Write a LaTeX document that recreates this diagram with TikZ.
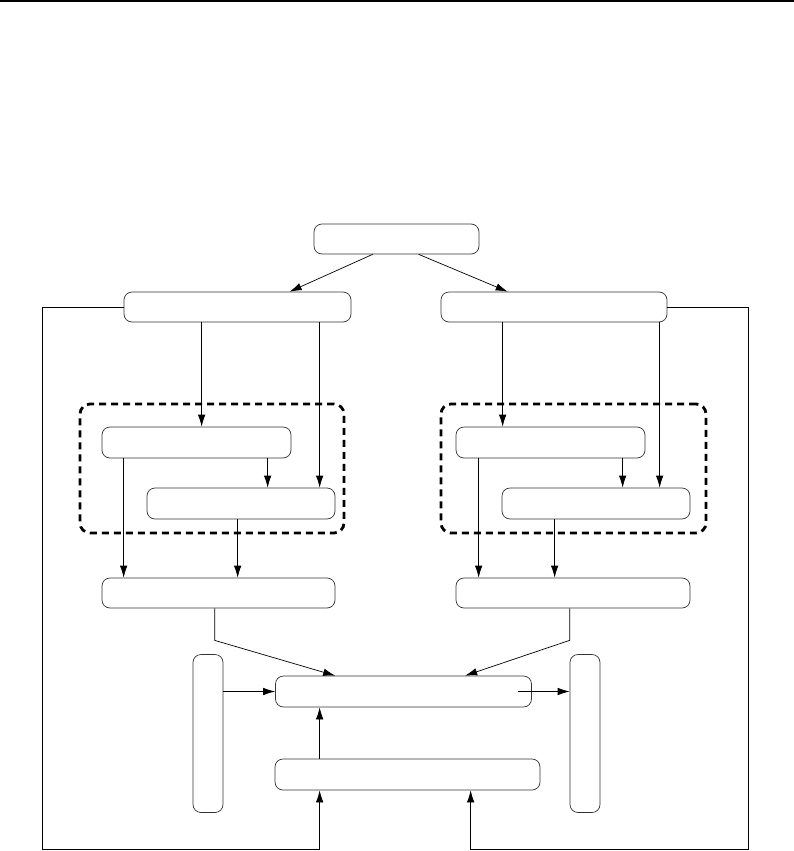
\documentclass[tikz,border=0pt]{standalone}
\usetikzlibrary{arrows.meta}
\begin{document}
\begin{tikzpicture}[x=1pt,y=-1pt,
  blk/.style={draw=black!80,line width=0.7pt,rounded corners=8pt,fill=white,inner sep=0pt},
  grp/.style={draw,line width=2.8pt,dash pattern=on 7pt off 5pt,rounded corners=10pt,inner sep=0pt},
  arr/.style={-{Latex[length=12pt,width=7.5pt]},line width=0.7pt},
  ln/.style={line width=0.7pt}]
\useasboundingbox (0,0) rectangle (794,851);
\fill (0,0) rectangle (794,2.5);
% groups
\node[grp,minimum width=264pt,minimum height=129pt] (GL) at (212,468.5) {};
\node[grp,minimum width=265pt,minimum height=129pt] (GR) at (573.5,468.5) {};
% boxes
\node[blk,minimum width=165pt,minimum height=30pt] (T) at (396.5,239) {};
\node[blk,minimum width=227pt,minimum height=30pt] (L1) at (237.5,307) {};
\node[blk,minimum width=226pt,minimum height=30pt] (R1) at (554,307) {};
\node[blk,minimum width=189pt,minimum height=31pt] (L2a) at (196.5,442.5) {};
\node[blk,minimum width=188pt,minimum height=31pt] (L2b) at (241,503.5) {};
\node[blk,minimum width=189pt,minimum height=31pt] (R2a) at (550.5,442.5) {};
\node[blk,minimum width=188pt,minimum height=31pt] (R2b) at (596,503.5) {};
\node[blk,minimum width=233pt,minimum height=30pt] (L3) at (218.5,593) {};
\node[blk,minimum width=234pt,minimum height=30pt] (R3) at (573,593) {};
\node[blk,minimum width=256pt,minimum height=31pt] (C1) at (403.5,691.5) {};
\node[blk,minimum width=265pt,minimum height=31pt] (C2) at (407.5,774.5) {};
\node[blk,minimum width=30pt,minimum height=158pt] (LT) at (208,733.5) {};
\node[blk,minimum width=30pt,minimum height=158pt] (RT) at (585,733.5) {};
\coordinate (LB) at (42,849);
\coordinate (RB) at (748,849);
% top
\draw[arr] ([xshift=59pt]T.south west) -- ([xshift=166pt]L1.north west);
\draw[arr] ([xshift=105pt]T.south west) -- ([xshift=67pt]R1.north west);
% left column
\draw[arr] ([xshift=78pt]L1.south west) coordinate (a) -- (a |- L2a.north);
\draw[arr] ([xshift=196pt]L1.south west) coordinate (a) -- (a |- L2b.north);
\draw[arr] ([xshift=22pt]L2a.south west) coordinate (a) -- (a |- L3.north);
\draw[arr] ([xshift=166pt]L2a.south west) coordinate (a) -- (a |- L2b.north);
\draw[arr] ([xshift=91pt]L2b.south west) coordinate (a) -- (a |- L3.north);
% right column
\draw[arr] ([xshift=62pt]R1.south west) coordinate (a) -- (a |- R2a.north);
\draw[arr] ([xshift=219pt]R1.south west) coordinate (a) -- (a |- R2b.north);
\draw[arr] ([xshift=23pt]R2a.south west) coordinate (a) -- (a |- R3.north);
\draw[arr] ([xshift=167pt]R2a.south west) coordinate (a) -- (a |- R2b.north);
\draw[arr] ([xshift=53pt]R2b.south west) coordinate (a) -- (a |- R3.north);
% to centre
\draw[arr] ([xshift=113pt]L3.south west) -- ++(0,32) -- ([xshift=60pt]C1.north west);
\draw[arr] ([xshift=114pt]R3.south west) -- ++(0,32) -- ([xshift=190pt]C1.north west);
\draw[arr] (C1.west -| LT.east) -- (C1.west);
\draw[arr] ([xshift=-14pt]C1.east) -- (C1.east -| RT.west);
\draw[arr] ([xshift=45pt]C2.north west) coordinate (a) -- (a |- C1.south);
% loops
\draw[arr] (L1.west) -| (LB) -| ([xshift=45pt]C2.south west);
\draw[arr] (R1.east) -| (RB) -| ([xshift=196pt]C2.south west);
\end{tikzpicture}
\end{document}
